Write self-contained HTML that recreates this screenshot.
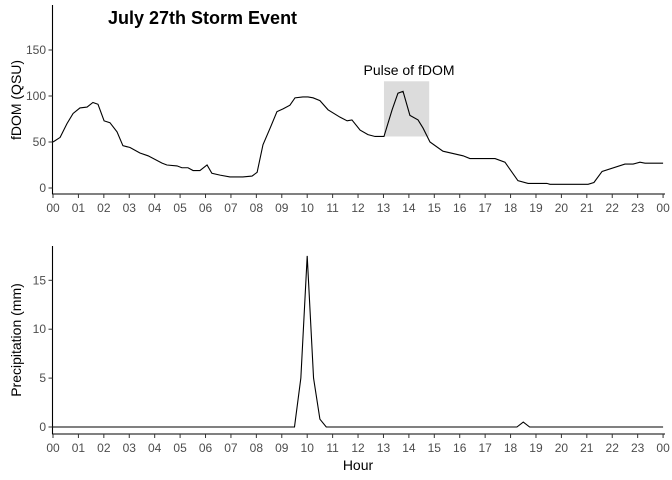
<!DOCTYPE html>
<html><head><meta charset="utf-8"><style>
body{margin:0;background:#fff}
svg{display:block;font-family:"Liberation Sans",sans-serif}
.tk{fill:#4d4d4d;font-size:12px;text-anchor:middle}
.yt{fill:#4d4d4d;font-size:12px;text-anchor:end}
</style></head><body>
<svg id="c" width="672" height="480">
<text x="108" y="24" font-size="18" font-weight="bold">July 27th Storm Event</text>
<text transform="translate(21,100) rotate(-90)" font-size="14" text-anchor="middle">fDOM (QSU)</text>
<text transform="translate(21,340) rotate(-90)" font-size="14" text-anchor="middle">Precipitation (mm)</text>
<text x="358" y="470" font-size="14" text-anchor="middle">Hour</text>
</svg>
<script>
const fdomHours=[0,0.28,0.55,0.79,1.06,1.34,1.57,1.77,2.01,2.24,2.52,2.75,3.03,3.42,3.74,4.29,4.48,4.88,5.07,5.31,5.51,5.78,6.06,6.25,6.57,6.96,7.47,7.83,8.03,8.26,8.54,8.81,9.05,9.32,9.52,9.83,10.03,10.23,10.5,10.82,11.29,11.57,11.76,12.08,12.39,12.67,13.02,13.34,13.57,13.77,14.04,14.36,14.56,14.83,15.34,16.13,16.4,17.39,17.78,18.29,18.69,19.43,19.55,21.05,21.28,21.6,22.5,22.82,23.09,23.29,24];
const fdomValues=[50,55,70,81,87,88,93,91,73,71,61,46,44,38,35,27,25,24,22,22,19,19,25,16,14,12,12,13,17,47,65,83,86,90,98,99,99,98,95,85,77,73,74,63,58,56,56,85,103,105,79,74,65,50,40,35,32,32,28,8,5,5,4,4,6,18,26,26,28,27,27];
const precipHours=[0,9.5,9.75,10,10.25,10.5,10.75,18.25,18.5,18.75,24];
const precipValues=[0,0,5,17.5,5,0.8,0,0,0.5,0,0];
const pulseBox=[13.02,14.8,56,116];
const hourTicks=["00","01","02","03","04","05","06","07","08","09","10","11","12","13","14","15","16","17","18","19","20","21","22","23","00"];
const fdomTicks=[0,50,100,150];
const precipTicks=[0,5,10,15];
const NS="http://www.w3.org/2000/svg",svg=document.getElementById('c');
function mk(t,a,p){const e=document.createElementNS(NS,t);for(const k in a)e.setAttribute(k,a[k]);(p||svg).appendChild(e);return e;}
const xS=h=>53+h*25.42;
const yTop=v=>188-0.92*v;
const yBot=v=>427-9.78*v;
function panel(name,top,bottom,yS,ticks,hs,vs){
  const g=mk('g',{});
  
  
  const ya=mk('line',{x1:52.5,y1:top,x2:52.5,y2:bottom,stroke:'#000','stroke-width':1.1},g);
  
  const xa=mk('line',{x1:52,y1:bottom,x2:665,y2:bottom,stroke:'#000','stroke-width':1.1},g);
  
  ticks.forEach(t=>{const y=yS(t);mk('line',{x1:48.5,x2:52.5,y1:y,y2:y,stroke:'#333'},g);
    const tx=mk('text',{x:46,y:y+4,class:'yt'},g);tx.textContent=t;
    });
  hourTicks.forEach((l,i)=>{const x=xS(i);mk('line',{x1:x,x2:x,y1:bottom,y2:bottom+4,stroke:'#333'},g);
    const tx=mk('text',{x:x,y:bottom+18,class:'tk'},g);tx.textContent=l;
    });
  const p=mk('polyline',{points:hs.map((h,i)=>xS(h)+','+yS(vs[i])).join(' '),fill:'none',stroke:'#000','stroke-width':1.1},g);
  
}
const r=mk('rect',{x:xS(pulseBox[0]),y:yTop(pulseBox[3]),width:xS(pulseBox[1])-xS(pulseBox[0]),height:yTop(pulseBox[2])-yTop(pulseBox[3]),fill:'#dcdcdc'});


const at=mk('text',{x:409,y:75,'font-size':14,'text-anchor':'middle'});
at.textContent='Pulse of fDOM';


panel('fdom',5,194,yTop,fdomTicks,fdomHours,fdomValues);
panel('precip',246,434,yBot,precipTicks,precipHours,precipValues);
</script>
</body></html>
